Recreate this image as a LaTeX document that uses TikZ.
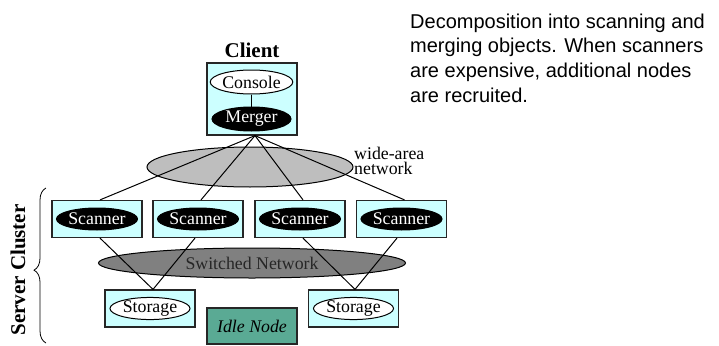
\documentclass[tikz,border=0pt]{standalone}
\usepackage{fontspec}
\setmainfont{Liberation Serif}
\newfontfamily\capsans{Liberation Sans}
\usetikzlibrary{shapes.geometric,decorations.pathreplacing}
\definecolor{boxcyan}{HTML}{CCFFFF}
\definecolor{widegray}{HTML}{BEBEBE}
\definecolor{langray}{HTML}{808080}
\definecolor{idlegreen}{HTML}{5AAA94}
\begin{document}
\begin{tikzpicture}[x=1pt,y=-1pt,
  every node/.style={font=\fontsize{17.8}{20}\selectfont},
  hostbox/.style={draw=black!85, line width=1.2pt, fill=boxcyan, inner sep=0pt,
    minimum width=90pt, minimum height=37pt},
  proc/.style={ellipse, draw=black, line width=1pt, inner sep=0pt,
    minimum width=80pt, minimum height=22pt},
  procdark/.style={proc, fill=black, text=white},
  proclight/.style={proc, fill=white},
  netcloud/.style={ellipse, draw=black, line width=1pt, inner sep=0pt},
  link/.style={line width=1pt},
  heading/.style={font=\fontsize{21}{24}\selectfont\bfseries, inner sep=0pt}]
\useasboundingbox (0,0) rectangle (719,345);

% networks
\node[netcloud, fill=widegray, minimum width=206pt, minimum height=40pt] (wan) at (250,167) {};
\node[anchor=west, align=left, inner sep=0pt, font=\fontsize{17.8}{15}\selectfont] (wanlabel) at (354,161) {wide-area\\network};
\node[netcloud, fill=langray, minimum width=307pt, minimum height=30pt, text=black!85] (lan) at (252,263) {Switched Network};

% client
\node[heading, anchor=base] (clientlabel) at (252,58) {Client};
\node[hostbox, minimum height=72pt] (client) at (252,99) {};
\node[proclight, minimum width=79pt, minimum height=24pt] (console) at (251.5,82) {Console};
\node[procdark, minimum width=79pt, minimum height=24pt] (merger) at (251.5,119) {Merger};
\draw[link] (console) -- (merger);

% scanners
\foreach \i/\x in {1/97,2/198,3/300,4/401.5}{
  \node[hostbox] (sc\i) at (\x,219) {};
  \node[procdark] (scan\i) at (\x,219) {Scanner};
}

% storage and idle node
\node[hostbox] (st1) at (150,308.5) {};
\node[proclight, minimum height=20pt] (store1) at (150,308.5) {Storage};
\node[hostbox] (st2) at (353.5,308.5) {};
\node[proclight, minimum height=20pt] (store2) at (353.5,308.5) {Storage};
\node[hostbox, fill=idlegreen, minimum height=36pt, font=\fontsize{17.8}{20}\selectfont\itshape] (idle) at (252,326) {Idle Node};

% wide-area links
\foreach \i in {1,2,3,4}{
  \draw[link] ([xshift=3pt]client.south) -- ([xshift=3pt]sc\i.north);
}
% switched links
\draw[link] ([xshift=3pt]sc1.south) -- ([xshift=3pt]st1.north);
\draw[link] ([xshift=-3pt]sc2.south) -- ([xshift=3pt]st1.north);
\draw[link] ([xshift=3pt]sc3.south) -- ([xshift=1.5pt]st2.north);
\draw[link] ([xshift=-4.5pt]sc4.south) -- ([xshift=1.5pt]st2.north);

% cluster brace
\coordinate (bracelow) at (46,343);
\coordinate (bracehigh) at (46,188);
\draw[line width=0.8pt, decorate, decoration={brace, amplitude=12pt, aspect=0.47}] (bracelow) -- (bracehigh);
\node[heading, rotate=90, anchor=base] (cluster) at (25,270) {Server Cluster};

% caption
\node[anchor=north west, align=left, inner sep=0pt, font=\capsans\fontsize{20}{24.7}\selectfont] (caption) at (410,13.6)
  {Decomposition into scanning and\\merging objects. When scanners\\are expensive, additional nodes\\are recruited.};
\end{tikzpicture}
\end{document}
